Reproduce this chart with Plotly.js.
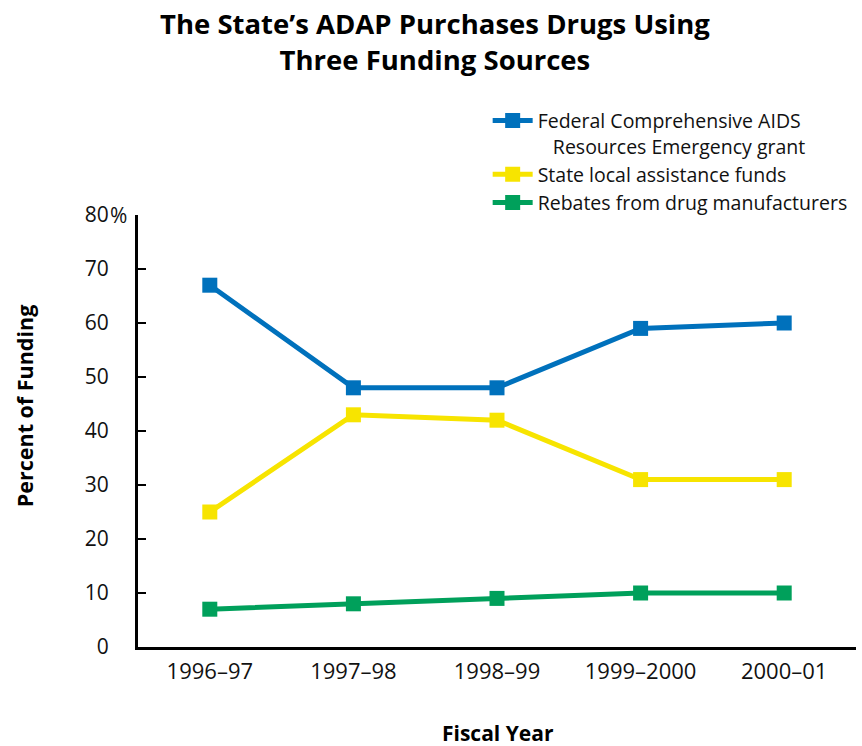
<!DOCTYPE html>
<html>
<head>
<meta charset="utf-8">
<script src="https://cdn.plot.ly/plotly-3.0.1.min.js"></script>
<style>
  html, body { margin: 0; padding: 0; background: #fff; }
  #chart { width: 862px; height: 746px; }
</style>
</head>
<body>
<div id="chart"></div>
<script>
// Fiscal years on the horizontal axis
const fiscalYears = ['1996–97', '1997–98', '1998–99', '1999–2000', '2000–01'];

// Share of ADAP drug purchases by funding source (percent)
const federalCare = [67, 48, 48, 59, 60];
const stateLocal = [25, 43, 42, 31, 31];
const rebates = [7, 8, 9, 10, 10];

// Vertical axis ticks
const yTickValues = [0, 10, 20, 30, 40, 50, 60, 70, 80];
const yTickLabels = ['0', '10', '20', '30', '40', '50', '60', '70', '80'];

const FONT = '"Open Sans", Lato, sans-serif';

function series(name, values, color) {
  return {
    type: 'scatter',
    mode: 'lines+markers',
    name: name,
    x: fiscalYears,
    y: values,
    line: { color: color, width: 5 },
    marker: { symbol: 'square', size: 15, color: color },
    cliponaxis: false
  };
}

const traces = [
  series('Federal Comprehensive AIDS<br>\u00A0\u00A0\u00A0Resources Emergency grant', federalCare, '#0071BC'),
  series('State local assistance funds', stateLocal, '#F7E400'),
  series('Rebates from drug manufacturers', rebates, '#00A05B')
];

const layout = {
  width: 862,
  height: 746,
  margin: { l: 138, r: 6, t: 215, b: 99 },
  paper_bgcolor: '#ffffff',
  plot_bgcolor: '#ffffff',
  font: { family: FONT, color: '#111111', size: 20 },
  showlegend: true,
  xaxis: {
    type: 'category',
    range: [-0.5, 4.5],
    showline: true,
    linecolor: '#000000',
    linewidth: 3,
    showgrid: false,
    zeroline: false,
    ticks: '',
    ticklabelstandoff: 3,
    tickfont: { family: FONT, size: 22, color: '#111111' },
    fixedrange: true
  },
  yaxis: {
    range: [0, 80],
    showline: true,
    linecolor: '#000000',
    linewidth: 3,
    showgrid: false,
    zeroline: false,
    ticks: 'inside',
    ticklen: 8,
    tickwidth: 2,
    tickcolor: '#000000',
    tickvals: yTickValues,
    ticktext: yTickLabels,
    ticklabelstandoff: 22,
    tickfont: { family: FONT, size: 21, color: '#111111' },
    fixedrange: true
  },
  legend: {
    x: 0.487,
    xanchor: 'left',
    y: 1.263,
    yanchor: 'top',
    valign: 'top',
    itemwidth: 40,
    bgcolor: 'rgba(0,0,0,0)',
    font: { family: FONT, size: 19.5, color: '#111111' },
    tracegroupgap: 0,
    itemclick: false,
    itemdoubleclick: false
  },
  annotations: [
    {
      text: "<b>The State’s ADAP Purchases Drugs Using<br>Three Funding Sources</b>",
      xref: 'paper', yref: 'paper',
      x: 0.414, y: 1.49,
      xanchor: 'center', yanchor: 'top',
      showarrow: false,
      font: { family: FONT, size: 27.5, color: '#000000' }
    },
    {
      text: '%',
      xref: 'paper', yref: 'y',
      x: -0.042, y: 80,
      xanchor: 'left', yanchor: 'middle',
      showarrow: false,
      font: { family: FONT, size: 21, color: '#111111' }
    },
    {
      text: '<b>Percent of Funding</b>',
      xref: 'paper', yref: 'paper',
      x: -0.157, y: 0.558,
      xanchor: 'center', yanchor: 'middle',
      textangle: -90,
      showarrow: false,
      font: { family: FONT, size: 21.5, color: '#000000' }
    },
    {
      text: '<b>Fiscal Year</b>',
      xref: 'paper', yref: 'paper',
      x: 0.501, y: -0.199,
      xanchor: 'center', yanchor: 'middle',
      showarrow: false,
      font: { family: FONT, size: 21, color: '#000000' }
    }
  ]
};

Plotly.newPlot('chart', traces, layout, { displayModeBar: false, staticPlot: true });
</script>
</body>
</html>
